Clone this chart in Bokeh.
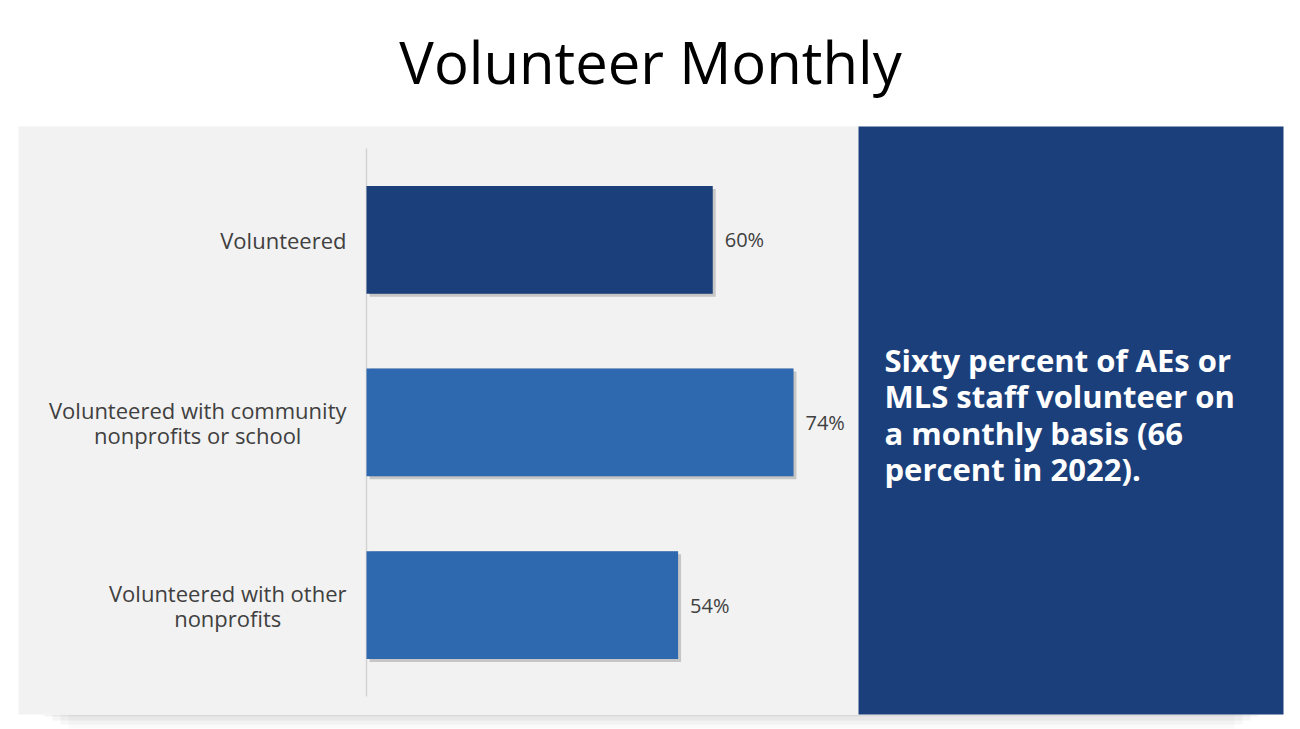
from bokeh.plotting import figure
from bokeh.models import Range1d, BoxAnnotation, Label, ColumnDataSource
from bokeh.core.properties import value
from bokeh.transform import dodge
from bokeh.embed import file_html
from bokeh.resources import INLINE

# ---- data ----
categories = ["Volunteered",
              "Volunteered with community\nnonprofits or school",
              "Volunteered with other\nnonprofits"]
values = [60, 74, 54]
value_labels = ["60%", "74%", "54%"]
bar_colors = ["#1b3f7b", "#2e69b0", "#2e69b0"]
title_text = "Volunteer Monthly"
callout_text = "Sixty percent of AEs or\nMLS staff volunteer on\na monthly basis (66\npercent in 2022)."

# ---- layout constants (pixels) ----
W, H = 1300, 729
PX_PER_PCT = 5.77
AXIS_X = 366
ROW = 182.67
FIRST_CENTER = 239.3
FONT = "Open Sans"

n = len(categories)
ypos = [n - 1 - i for i in range(n)]
y_top = (n - 1) + FIRST_CENTER / ROW
y_bottom = y_top - H / ROW

src = ColumnDataSource(dict(cat=categories, val=values, lab=value_labels,
                            y=ypos, color=bar_colors))

p = figure(width=W, height=H, output_backend="svg", toolbar_location=None,
           x_range=Range1d(-AXIS_X / PX_PER_PCT, (W - AXIS_X) / PX_PER_PCT),
           y_range=Range1d(y_bottom, y_top),
           min_border=0, outline_line_color=None, tools="")
p.xaxis.visible = False
p.yaxis.visible = False
p.grid.visible = False
p.background_fill_color = "white"
p.border_fill_color = "white"


def screen_box(l, r, t, b, color, alpha):
    return BoxAnnotation(left=l, right=r, top=H - t, bottom=H - b,
                         left_units="screen", right_units="screen",
                         top_units="screen", bottom_units="screen",
                         fill_color=color, fill_alpha=alpha, line_color=None,
                         level="underlay")


# soft shadow beneath panel
for a, d in [(0.05, 2), (0.04, 6), (0.03, 10), (0.02, 14)]:
    p.add_layout(screen_box(40 + d * 2, 1262 - d * 2, 714, 714 + d, "black", a))

# gray panel and blue callout panel
p.add_layout(screen_box(18, 858, 126, 714, "#f2f2f2", 1))
p.add_layout(screen_box(858, 1283, 126, 714, "#1b3f7b", 1))

# axis line
p.segment(x0=0, x1=0, y0=-0.5, y1=n - 0.5, line_color="#d4d4d4", line_width=1.5)

# bar shadows
shadow_dy = 3 / ROW
shadow_dx = 3 / PX_PER_PCT
p.hbar(y="y", left=shadow_dx, right="val", height=0.59, source=src,
       fill_color="black", fill_alpha=0.18, line_color=None)
p.hbar(y=dodge("y", -shadow_dy), left=shadow_dx, right=dodge("val", shadow_dx),
       height=0.59, source=src, fill_color="black", fill_alpha=0.18, line_color=None)

# bars
p.hbar(y="y", left=0, right="val", height=0.59, source=src,
       fill_color="color", line_color=None)

# value labels
p.text(x="val", y="y", text="lab", source=src, x_offset=12,
       text_font=value(FONT), text_font_size="20px", text_color="#404040",
       text_align="left", text_baseline="middle")

# category labels
p.text(x=0, y="y", text="cat", source=src, x_offset=-20,
       text_font=value(FONT), text_font_size="22px", text_color="#404040",
       text_align="center", anchor="center_right", text_baseline="middle",
       text_line_height=0.84)

# title
p.add_layout(Label(x=650, y=H - 61, x_units="screen", y_units="screen", text=title_text,
                   text_font=FONT, text_font_size="58px", text_color="black",
                   text_align="center", text_baseline="middle"))

# callout text
p.add_layout(Label(x=884, y=H - 414, x_units="screen", y_units="screen", text=callout_text,
                   text_font=FONT, text_font_size="31px", text_font_style="bold",
                   text_color="white", text_align="left", text_baseline="middle",
                   text_line_height=0.86))

open("out.html", "w").write(file_html(p, INLINE))
